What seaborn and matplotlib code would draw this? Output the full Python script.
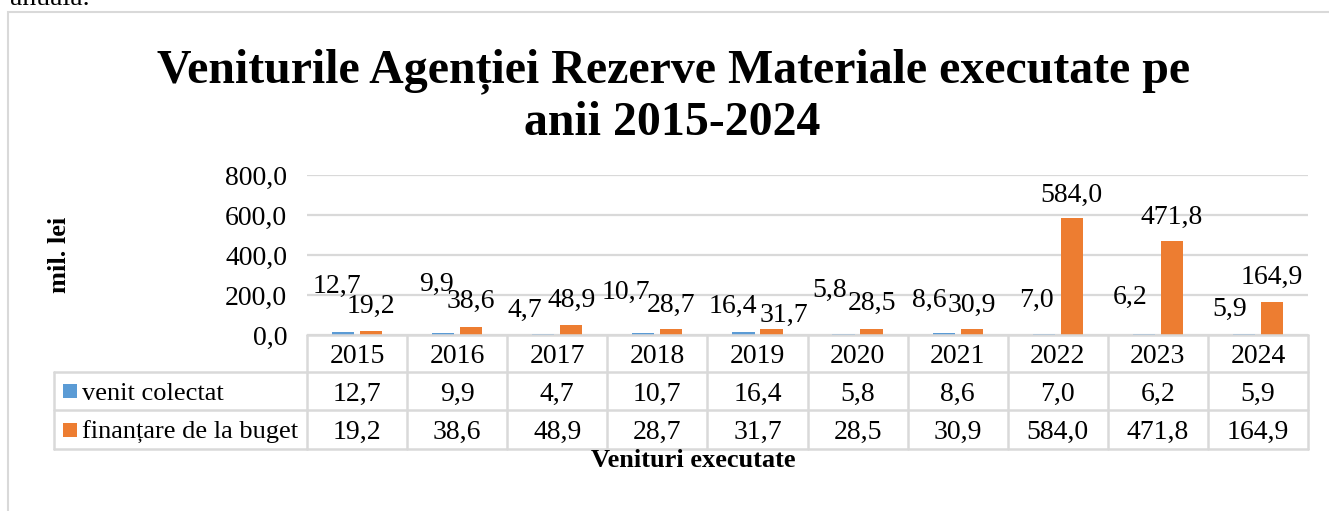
import matplotlib
matplotlib.use("Agg")
import matplotlib.pyplot as plt
import matplotlib.transforms as mtransforms
from matplotlib.lines import Line2D
from matplotlib.patches import Rectangle
from matplotlib.ticker import FuncFormatter
import seaborn as sns
import pandas as pd

# ---------------- data ----------------
years = ["2015", "2016", "2017", "2018", "2019", "2020", "2021", "2022", "2023", "2024"]
venit_colectat = [12.7, 9.9, 4.7, 10.7, 16.4, 5.8, 8.6, 7.0, 6.2, 5.9]
finantare_buget = [19.2, 38.6, 48.9, 28.7, 31.7, 28.5, 30.9, 584.0, 471.8, 164.9]
series_names = ["venit colectat", "finanțare de la buget"]
y_ticks = [0, 200, 400, 600, 800]

title_lines = ["Veniturile Agenției Rezerve Materiale executate pe", "anii 2015-2024"]
y_label = "mil. lei"
x_label = "Venituri executate"

# ---------------- style ----------------
colors = ["#5B9BD5", "#ED7D31"]
grid_color = "#D9D9D9"
serif = ["Liberation Serif", "DejaVu Serif"]
# label offsets (px) as placed in the original
blue_label_dx = [-6, -7, -18, -17, -11, -14, -14, -7, -14, -14]
blue_label_dy = [40, 42, 17, 34, 19, 37, 26, 27, 30, 18]
orange_label_dx = [0, 0, 0, 0, 12, 0, 0, 0, 0, 0]
orange_label_dy = [18, 19, 18, 17, 7, 19, 17, 16, 17, 18]

W, H = 1329, 511
DPI = 100

sns.set_theme(style="white")
plt.rcParams["font.family"] = serif
plt.rcParams["text.color"] = "black"
plt.rcParams["ytick.color"] = "black"
plt.rcParams["ytick.labelcolor"] = "black"


def fx(px):
    return px / W


def fy(py):
    return 1 - py / H


def pt(px):
    return px * 72 / DPI


fmt = lambda v: f"{v:.1f}".replace(".", ",")

fig = plt.figure(figsize=(W / DPI, H / DPI), dpi=DPI)
fig.patch.set_facecolor("white")

# outer frame of the chart object (open on the right and bottom)
fig.add_artist(Rectangle((fx(8), fy(530)), fx(1360) - fx(8), fy(12) - fy(530),
                         transform=fig.transFigure, fill=False,
                         edgecolor="#D9D9D9", lw=1.5, clip_on=False))
# fragment of document text above the chart
fig.text(fx(10), fy(5), "anuală.", fontsize=20, va="baseline", ha="left")

ax_left, ax_right, ax_top, ax_bottom = 307, 1308, 175, 335
ax = fig.add_axes([fx(ax_left), fy(ax_bottom), fx(ax_right) - fx(ax_left),
                   fy(ax_top) - fy(ax_bottom)])

df = pd.DataFrame({
    "year": years * 2,
    "series": [series_names[0]] * len(years) + [series_names[1]] * len(years),
    "value": venit_colectat + finantare_buget,
})

sns.barplot(data=df, x="year", y="value", hue="series", order=years,
            hue_order=series_names, palette=colors, width=0.56, gap=0.21,
            legend=False, ax=ax, saturation=1, linewidth=0)

ax.set_xlim(-0.5, len(years) - 0.5)
ax.set_ylim(0, 800)
ax.set_yticks(y_ticks)
ax.yaxis.set_major_formatter(FuncFormatter(lambda v, p: fmt(v)))
ax.tick_params(axis="y", length=0, pad=pt(20), labelsize=20, labelcolor="black")
ax.set_xticks([])
ax.set_xlabel("")
ax.set_ylabel("")
for s in ax.spines.values():
    s.set_visible(False)
ax.yaxis.grid(True, color=grid_color, lw=1.6)
ax.set_axisbelow(True)

# data labels
for si, cont in enumerate(ax.containers):
    vals = venit_colectat if si == 0 else finantare_buget
    for i, bar in enumerate(cont):
        xc = bar.get_x() + bar.get_width() / 2
        top = bar.get_height()
        if si == 0:
            off = (pt(blue_label_dx[i]), pt(blue_label_dy[i]))
        else:
            off = (pt(orange_label_dx[i]), pt(orange_label_dy[i]))
        ax.annotate(fmt(vals[i]), xy=(xc, top), xytext=off,
                    textcoords="offset points", ha="center", va="baseline",
                    fontsize=20, color="black", annotation_clip=False)

# ---------------- data table ----------------
bt = mtransforms.blended_transform_factory(ax.transData, fig.transFigure)
ft = fig.transFigure
rows_y = [335, 372, 410, 449]
lw_t = 1.8
n = len(years)
fig.add_artist(Line2D([-0.5, n - 0.5], [fy(rows_y[0])] * 2, transform=bt,
                      color=grid_color, lw=lw_t))
for yy in rows_y[1:]:
    fig.add_artist(Line2D([fx(54), fx(ax_left)], [fy(yy)] * 2, transform=ft,
                          color=grid_color, lw=lw_t))
    fig.add_artist(Line2D([-0.5, n - 0.5], [fy(yy)] * 2, transform=bt,
                          color=grid_color, lw=lw_t))
for k in range(n + 1):
    fig.add_artist(Line2D([k - 0.5, k - 0.5], [fy(rows_y[0]), fy(rows_y[-1])],
                          transform=bt, color=grid_color, lw=lw_t))
fig.add_artist(Line2D([fx(54), fx(54)], [fy(rows_y[1]), fy(rows_y[-1])],
                      transform=ft, color=grid_color, lw=lw_t))

row_centers = [(rows_y[j] + rows_y[j + 1]) / 2 for j in range(3)]
for i, yr in enumerate(years):
    fig.text(i, fy(row_centers[0]), yr, transform=bt, ha="center",
             va="center_baseline", fontsize=20)
    fig.text(i, fy(row_centers[1]), fmt(venit_colectat[i]), transform=bt,
             ha="center", va="center_baseline", fontsize=20)
    fig.text(i, fy(row_centers[2]), fmt(finantare_buget[i]), transform=bt,
             ha="center", va="center_baseline", fontsize=20)

# legend keys inside the table
for j, (name, c) in enumerate(zip(series_names, colors)):
    yc = row_centers[j + 1]
    fig.add_artist(Rectangle((fx(63), fy(yc + 7)), fx(14), fy(0) - fy(14),
                             transform=ft, facecolor=c, edgecolor="none"))
    fig.text(fx(82), fy(yc), name, transform=ft, ha="left",
             va="center_baseline", fontsize=19)

# ---------------- titles ----------------
fig.text(fx(674), fy(82), title_lines[0], ha="center", va="baseline",
         fontsize=34.5, fontweight="bold")
fig.text(fx(672), fy(135), title_lines[1], ha="center", va="baseline",
         fontsize=34.5, fontweight="bold")
fig.text(fx(60), fy(255), y_label, rotation=90, ha="center", va="center",
         fontsize=19, fontweight="bold")
fig.text(fx(693), fy(467), x_label, ha="center", va="baseline",
         fontsize=19, fontweight="bold")

fig.savefig("out.png", dpi=DPI)
